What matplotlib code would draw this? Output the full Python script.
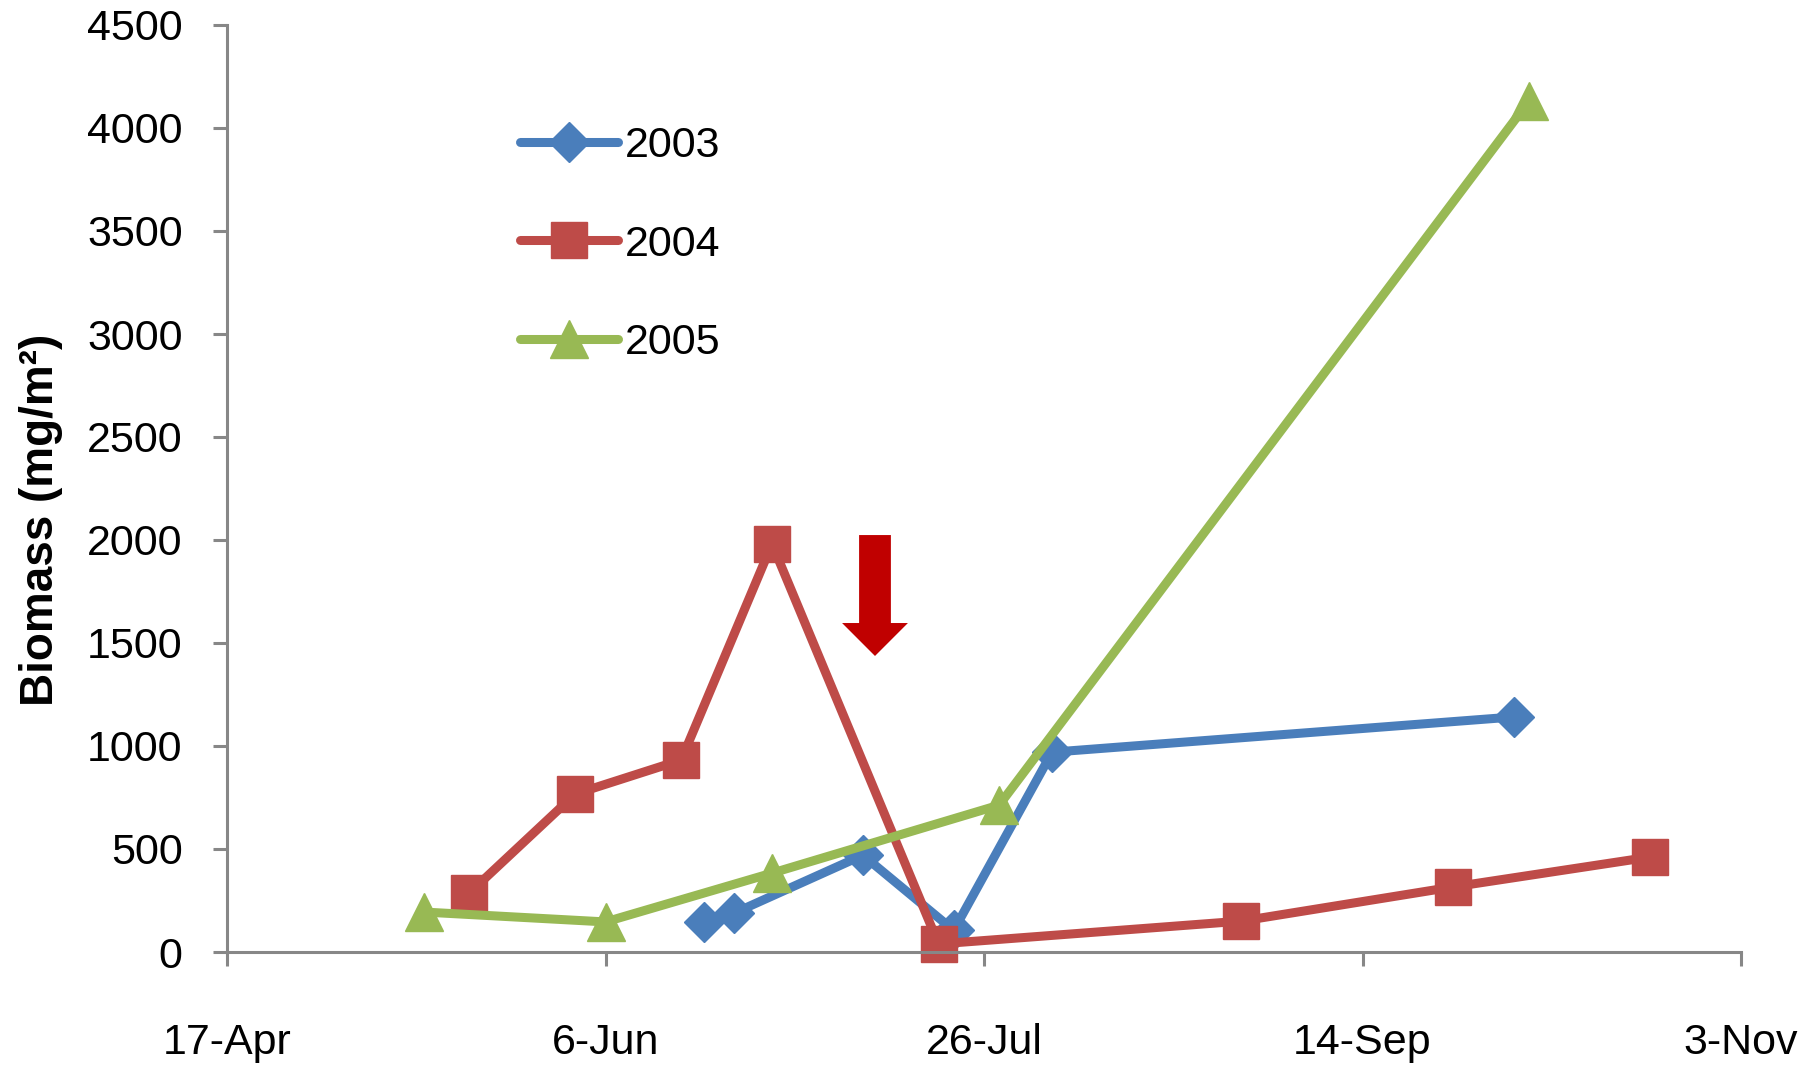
import numpy as np
import pandas as pd
import matplotlib
matplotlib.use("Agg")
from matplotlib import pyplot as plt
import matplotlib.dates as mdates
from matplotlib.patches import FancyArrow

plt.rcParams['font.family'] = ['Liberation Sans', 'DejaVu Sans']

# sampling dates (all seasons put on one nominal year) and biomass in mg/m2
dates_2003 = ["06-19", "06-23", "07-10", "07-22", "08-04", "10-04"]
biomass_2003 = [146, 189, 470, 105, 970, 1141]

dates_2004 = ["05-19", "06-02", "06-16", "06-28", "07-20", "08-29", "09-26", "10-22"]
biomass_2004 = [286, 767, 932, 1981, 39, 150, 316, 461]

dates_2005 = ["05-13", "06-06", "06-28", "07-28", "10-06"]
biomass_2005 = [194, 146, 383, 713, 4131]

xtick_dates = ["04-17", "06-06", "07-26", "09-14", "11-03"]
yticks = np.arange(0, 4501, 500)

series_names = ["2003", "2004", "2005"]
colors = ["#4A7EBB", "#BE4B48", "#98B954"]
markers = ["D", "s", "^"]
msizes = [20, 26, 27]


def to_dates(md):
    return pd.to_datetime(["2000-" + d for d in md])


fig = plt.figure(figsize=(18.17, 10.71), dpi=100)
ax = fig.add_axes([227/1817, 1 - 952/1071, (1741 - 227)/1817, (952 - 25)/1071])

all_dates = [dates_2003, dates_2004, dates_2005]
all_vals = [biomass_2003, biomass_2004, biomass_2005]
for name, d, v, c, m, ms in zip(series_names, all_dates, all_vals, colors, markers, msizes):
    ax.plot(to_dates(d), v, color=c, lw=6.5, marker=m, markersize=ms,
            markerfacecolor=c, markeredgecolor=c, markeredgewidth=1,
            solid_capstyle='round', solid_joinstyle='round', label=name,
            clip_on=False)

xt = to_dates(xtick_dates)
ax.set_xlim(xt[0], xt[-1])
ax.set_xticks(xt)
ax.xaxis.set_major_formatter(mdates.DateFormatter('%-d-%b'))
ax.set_ylim(0, 4500)
ax.set_yticks(yticks)

for s in ['top', 'right']:
    ax.spines[s].set_visible(False)
for s in ['left', 'bottom']:
    ax.spines[s].set_color('#878787')
    ax.spines[s].set_linewidth(2.2)
ax.tick_params(axis='both', colors='#878787', width=2.2, length=10, labelcolor='black',
               labelsize=31)
ax.tick_params(axis='y', pad=22)
ax.tick_params(axis='x', pad=41)

ax.set_ylabel("Biomass (mg/m²)", fontsize=33, fontweight='bold')
ax.yaxis.set_label_coords(-0.108, 0.466)

# red arrow marking the event in early July
x_arrow = mdates.date2num(pd.Timestamp("2000-07-11")) + 0.6
ax.add_patch(FancyArrow(x_arrow, 2024, 0, -587, width=4.2, head_width=8.7,
                        head_length=160, length_includes_head=True,
                        color='#C00000', lw=0, zorder=5))

leg = ax.legend(loc='upper left', bbox_to_anchor=(520/1817, 1 - 126/1071),
                bbox_transform=fig.transFigure, frameon=False, fontsize=31,
                handlelength=2.28, handletextpad=0.15, labelspacing=1.36,
                borderpad=0, borderaxespad=0, numpoints=1)

fig.savefig("out.png", dpi=100)
